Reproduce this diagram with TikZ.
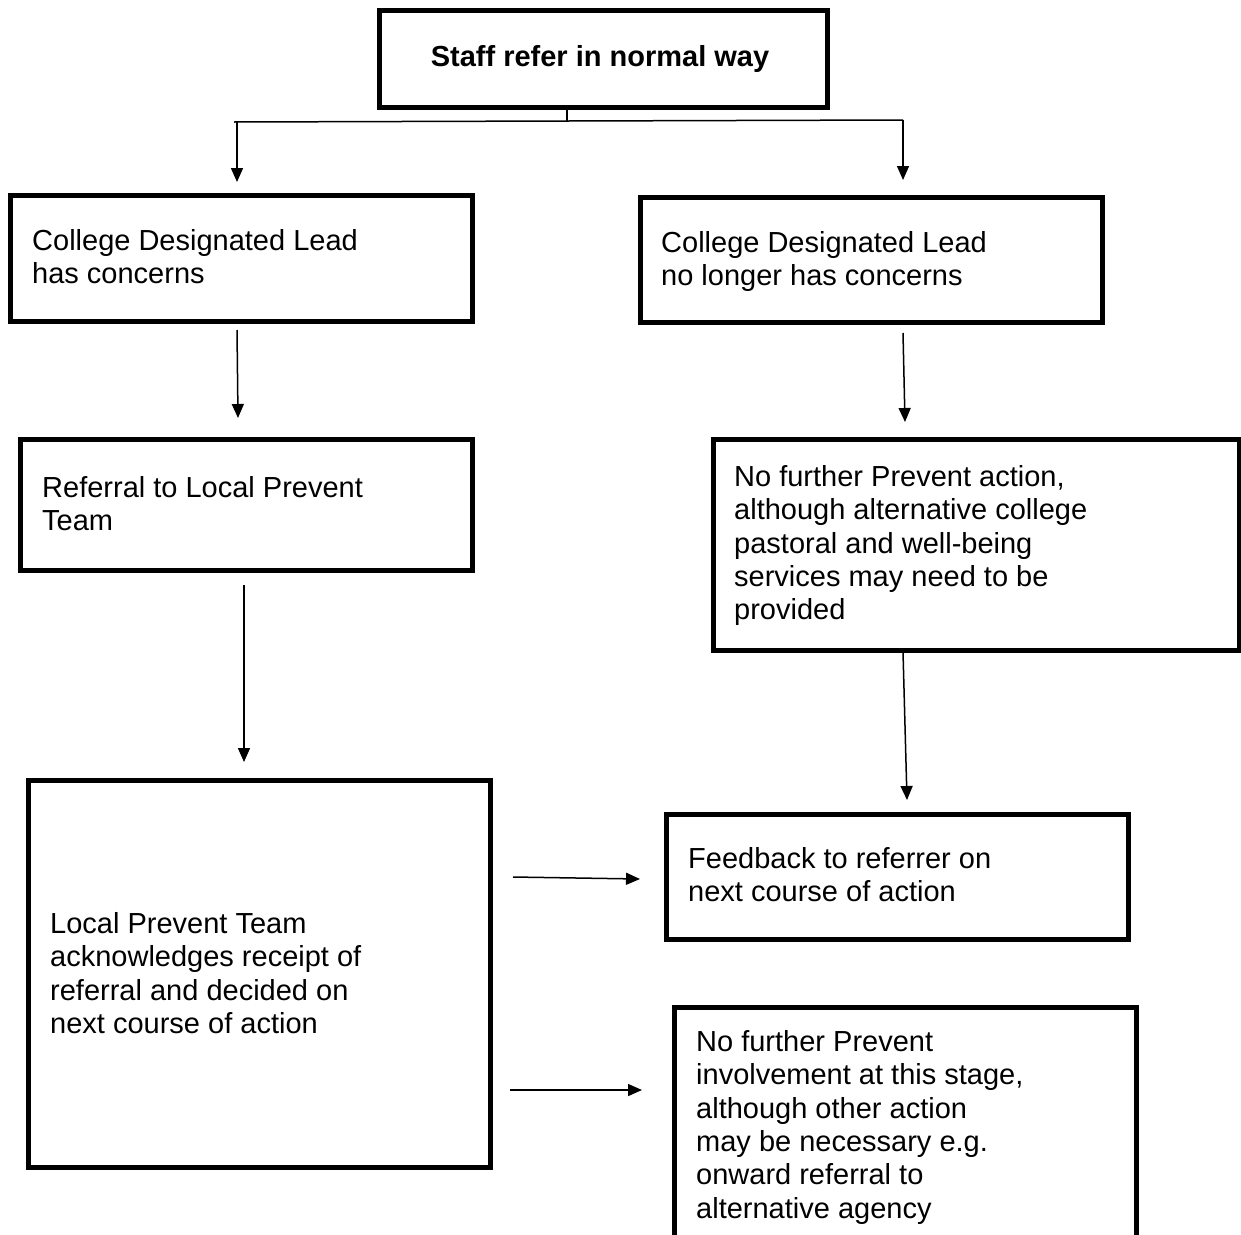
\documentclass[tikz,border=0pt]{standalone}
\usepackage{fontspec}
\setmainfont{Liberation Sans}
\usetikzlibrary{arrows.meta}
\begin{document}
\begin{tikzpicture}[x=1pt,y=-1pt,
  box/.style={draw=black, line width=4.5pt, rectangle, anchor=north west, inner sep=0pt},
  txt/.style={anchor=north west, inner sep=0pt, align=left, font=\fontsize{29}{33.4}\selectfont},
  arr/.style={line width=1.5pt, -{Triangle[length=14pt,width=12pt]}},
  ln/.style={line width=1.5pt}]
\clip (0,0) rectangle (1241,1234);
\fill[white] (0,0) rectangle (1241,1234);
% boxes
\node[box, minimum width=448, minimum height=97] (top) at (377,8) {};
\node[box, minimum width=462, minimum height=126] (l1) at (8,193) {};
\node[box, minimum width=462, minimum height=125] (r1) at (638,195) {};
\node[box, minimum width=452, minimum height=131] (l2) at (18,437) {};
\node[box, minimum width=526, minimum height=211] (r2) at (711,437) {};
\node[box, minimum width=462, minimum height=387] (l3) at (26,778) {};
\node[box, minimum width=462, minimum height=125] (r3) at (664,812) {};
\node[box, minimum width=462, minimum height=300] (r4) at (672,1005) {};
% texts
\node[anchor=base, inner sep=0pt, font=\fontsize{29}{33.4}\selectfont\bfseries] (topt) at (600,66) {Staff refer in normal way};
\node[txt] (l1t) at (32,229) {College Designated Lead\\has concerns};
\node[txt] (r1t) at (661,231) {College Designated Lead\\no longer has concerns};
\node[txt] (l2t) at (42,476) {Referral to Local Prevent\\Team};
\node[txt] (r2t) at (734,465) {No further Prevent action,\\although alternative college\\pastoral and well-being\\services may need to be\\provided};
\node[txt] (l3t) at (50,912) {Local Prevent Team\\acknowledges receipt of\\referral and decided on\\next course of action};
\node[txt] (r3t) at (688,847) {Feedback to referrer on\\next course of action};
\node[txt] (r4t) at (696,1030) {No further Prevent\\involvement at this stage,\\although other action\\may be necessary e.g.\\onward referral to\\alternative agency};
% connectors
\coordinate (stub) at (567,121);
\coordinate (hl) at (234,122);
\coordinate (hr) at (903,120);
\draw[ln] (top.south -| stub) -- (stub);
\draw[ln] (hl) -- (hr);
\coordinate (a1s) at (237,122); \coordinate (a1e) at (237,182);
\coordinate (a2s) at (903,120); \coordinate (a2e) at (903,180);
\coordinate (a3s) at (237,330); \coordinate (a3e) at (238,418);
\coordinate (a4s) at (903,333); \coordinate (a4e) at (905,422);
\coordinate (a5s) at (244,585); \coordinate (a5e) at (244,762);
\coordinate (a6s) at (903,652); \coordinate (a6e) at (907,800);
\coordinate (a7s) at (513,877); \coordinate (a7e) at (640,879);
\coordinate (a8s) at (510,1090); \coordinate (a8e) at (642,1090);
\draw[arr] (a1s) -- (a1e);
\draw[arr] (a2s) -- (a2e);
\draw[arr] (a3s) -- (a3e);
\draw[arr] (a4s) -- (a4e);
\draw[arr] (a5s) -- (a5e);
\draw[arr] (a6s) -- (a6e);
\draw[arr] (a7s) -- (a7e);
\draw[arr] (a8s) -- (a8e);
\end{tikzpicture}
\end{document}
